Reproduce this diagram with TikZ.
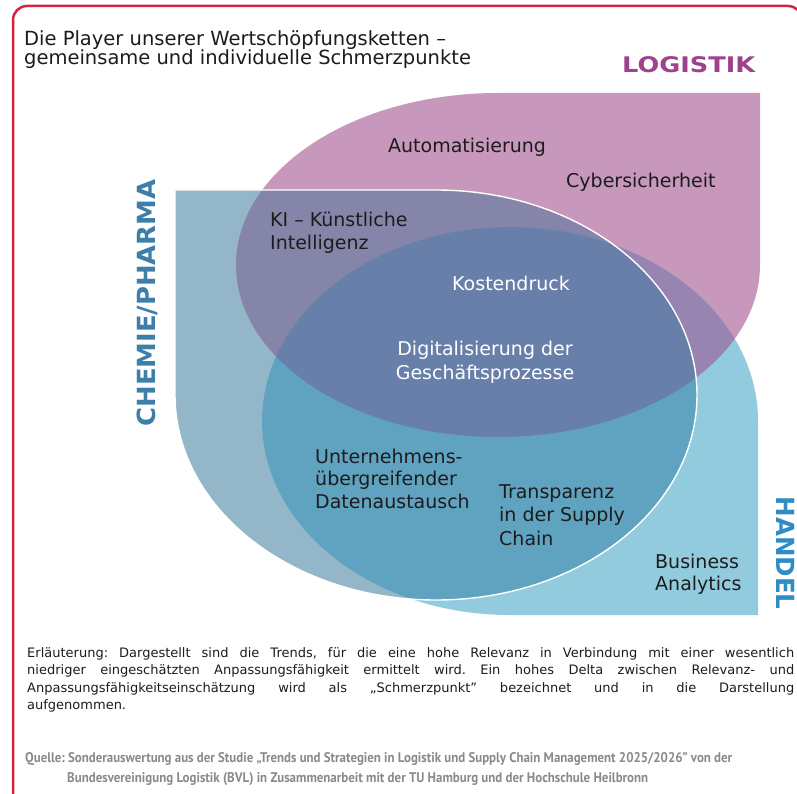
\documentclass[tikz,border=0pt]{standalone}
\usepackage{fontspec}
\setmainfont{DejaVu Sans}
\newfontfamily\quellefont{PT Sans}
\usepackage{tikz}
\usetikzlibrary{positioning}

\definecolor{logcol}{HTML}{C798BC}
\definecolor{chemcol}{HTML}{93B6C8}
\definecolor{handcol}{HTML}{93CBDE}
\definecolor{logchemcol}{HTML}{8585A9}
\definecolor{loghandcol}{HTML}{9884B0}
\definecolor{chemhandcol}{HTML}{60A3C0}
\definecolor{allcol}{HTML}{687FA9}
\definecolor{framered}{HTML}{D2233F}
\definecolor{logtitle}{HTML}{9E428E}
\definecolor{chemtitle}{HTML}{3D7FA8}
\definecolor{handtitle}{HTML}{2F8DC4}
\definecolor{quellegray}{HTML}{8A8A8A}
\definecolor{darktext}{HTML}{1C1C1C}

% the three sets, each an ellipse with one square outer corner
\newcommand{\logistikarea}{(498,-93) -- (760,-93) -- (760,-265) arc[start angle=0, end angle=-270, x radius=262pt, y radius=172pt] -- cycle}
\newcommand{\chemiearea}{(436,-190) -- (175,-190) -- (175,-395) arc[start angle=180, end angle=450, x radius=261pt, y radius=205pt] -- cycle}
\newcommand{\handelarea}{(758,-421) -- (758,-615) -- (510,-615) arc[start angle=270, end angle=0, x radius=248pt, y radius=194pt] -- cycle}

\tikzset{
	trend/.style={inner sep=0pt, text=darktext, align=left, font=\fontsize{19}{23}\selectfont},
	sector/.style={inner sep=0pt, font=\fontsize{25}{25}\selectfont\bfseries},
	note/.style={inner sep=0pt, text=darktext}
}

\begin{document}
\frenchspacing
\begin{tikzpicture}[x=1pt, y=1pt]
	\useasboundingbox[fill=white] (0,0) rectangle (797,-794);

	\fill[chemcol] \chemiearea;
	\fill[logcol] \logistikarea;
	\fill[handcol] \handelarea;
	\begin{scope}
		\clip \logistikarea;
		\fill[logchemcol] \chemiearea;
		\fill[loghandcol] \handelarea;
	\end{scope}
	\begin{scope}
		\clip \chemiearea;
		\fill[chemhandcol] \handelarea;
	\end{scope}
	\begin{scope}
		\clip \logistikarea;
		\clip \chemiearea;
		\fill[allcol] \handelarea;
	\end{scope}
	\draw[white, line width=1.4pt] \chemiearea;

	% frame
	\draw[framered, line width=2.5pt, rounded corners=14pt] (13,-860) -- (13,-6) -- (802,-6) -- (802,-860);

	% multi-line nodes sit on the baseline of their last line
	\node[note, anchor=base west, align=left, font=\fontsize{19.5}{19.5}\selectfont] (title) at (24,-65)
		{Die Player unserer Wertschöpfungsketten –\\gemeinsame und individuelle Schmerzpunkte};

	\node[sector, text=logtitle, anchor=base west, font=\fontsize{21.5}{21.5}\selectfont\bfseries] (logistik) at (622,-73)
		{\resizebox{133pt}{\height}{LOGISTIK}};
	\node[sector, text=chemtitle, rotate=90] (chemie) at (147,-303)
		{\resizebox{247pt}{\height}{CHEMIE/PHARMA}};
	\node[sector, text=handtitle, rotate=-90] (handel) at (786,-553)
		{\resizebox{113pt}{\height}{HANDEL}};

	\node[trend, anchor=base west] (automat) at (388,-153) {Automatisierung};
	\node[trend, anchor=base west] (cyber) at (566,-188) {Cybersicherheit};
	\node[trend, anchor=base west, font=\fontsize{19}{22}\selectfont] (ki) at (270,-249) {KI – Künstliche\\Intelligenz};
	\node[trend, anchor=base, text=white] (kosten) at (511,-290) {Kostendruck};
	\node[trend, anchor=base, align=center, text=white, font=\fontsize{19}{23.5}\selectfont] (digital) at (485,-379)
		{Digitalisierung der\\Geschäftsprozesse};
	\node[trend, anchor=base west, font=\fontsize{19}{22.5}\selectfont] (austausch) at (315,-508)
		{Unternehmens-\\übergreifender\\Datenaustausch};
	\node[trend, anchor=base west, font=\fontsize{19}{23.5}\selectfont] (transparenz) at (499,-545)
		{Transparenz\\in der Supply\\Chain};
	\node[trend, anchor=base west, font=\fontsize{19}{22}\selectfont] (analytics) at (655,-590)
		{Business\\Analytics};

	\node[note, anchor=base west, text width=767pt, align=justify, font=\fontsize{13}{17.5}\selectfont] (erlaeuterung) at (27,-657)
		{Erläuterung: Dargestellt sind die Trends, für die eine hohe Relevanz in Verbindung mit einer wesentlich\linebreak
		niedriger eingeschätzten Anpassungsfähigkeit ermittelt wird. Ein hohes Delta zwischen Relevanz- und\linebreak
		Anpassungsfähigkeitseinschätzung wird als „Schmerzpunkt" bezeichnet und in die Darstellung\linebreak
		aufgenommen.};

	\node[inner sep=0pt, anchor=base west, text=quellegray, font=\quellefont\bfseries\fontsize{14}{14}\selectfont] (quelle) at (25,-762)
		{\resizebox{707pt}{\height}{Quelle: Sonderauswertung aus der Studie „Trends und Strategien in Logistik und Supply Chain Management 2025/2026” von der}};
	\node[inner sep=0pt, anchor=base west, text=quellegray, font=\quellefont\bfseries\fontsize{14}{14}\selectfont] (bvl) at (67,-782)
		{\resizebox{581pt}{\height}{Bundesvereinigung Logistik (BVL) in Zusammenarbeit mit der TU Hamburg und der Hochschule Heilbronn}};
\end{tikzpicture}
\end{document}
